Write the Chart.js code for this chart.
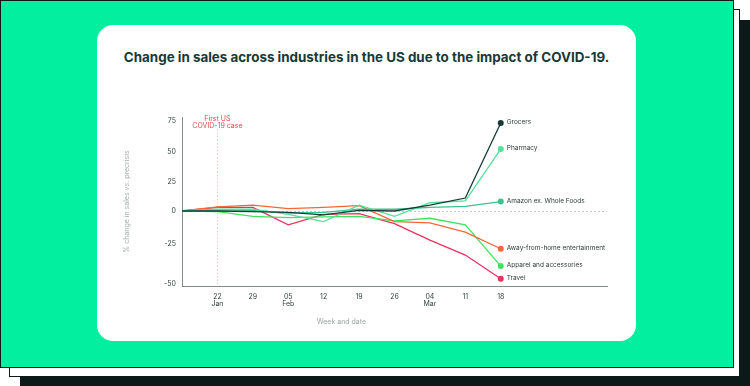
<!DOCTYPE html>
<html>
<head>
<meta charset="utf-8">
<script src="https://cdn.jsdelivr.net/npm/chart.js@4.4.1/dist/chart.umd.min.js"></script>
<style>
  html, body { margin: 0; padding: 0; background: #fff; }
  body { position: relative; width: 750px; height: 386px; overflow: hidden; font-family: Inter, sans-serif; }
  .layer { position: absolute; box-sizing: border-box; }
  .shadow { left: 20px; top: 20px; width: 730px; height: 366px; background: #0b1a18; }
  .back { left: 9px; top: 9px; width: 731px; height: 368px; background: #fff; border: 1px solid #0b1a18; }
  .front { left: 0; top: 0; width: 734px; height: 368px; background: #02ef9f; border: 1px solid #0b1a18; }
  .card { left: 97px; top: 25px; width: 539px; height: 316px; background: #fff; border-radius: 16px; }
  h1 { position: absolute; left: 97px; width: 539px; top: 48px; margin: 0; text-align: center;
       font-size: 13.4px; line-height: 18px; font-weight: 700; color: #173a37; }
  canvas { position: absolute; left: 0; top: 0; }
</style>
</head>
<body>
<div class="layer shadow"></div>
<div class="layer back"></div>
<div class="layer front"></div>
<div class="layer card"></div>
<h1>Change in sales across industries in the US due to the impact of COVID-19.</h1>
<canvas id="chart" width="750" height="386"></canvas>
<script>
const days = ['', '22', '29', '05', '12', '19', '26', '04', '11', '18']
const months = ['', 'Jan', '', 'Feb', '', '', '', 'Mar', '', '']

const names = ['Grocers', 'Pharmacy', 'Amazon ex. Whole Foods', 'Away-from-home entertainment', 'Apparel and accessories', 'Travel']
const grocers = [0, 0, -0.5, -1, -3, 0.5, 0, 5, 11, 73]
const pharmacy = [0, 1.5, 1.5, -2.5, -8, 5, -4, 7, 8.5, 52]
const amazon = [0, 1, 0.5, -1.5, -1, 1.5, 1.5, 3, 4, 8]
const awayFromHome = [0, 3.5, 5, 2, 3, 4.5, -8, -9, -16, -28]
const apparel = [0, -0.5, -4, -5, -4.5, -4, -7.5, -5.5, -10.5, -39]
const travel = [0, 3, 3, -10.5, -2.5, -2, -9.5, -22, -32, -47]

const yTicks = [75, 50, 25, 0, -25, -50]
const firstCase = { week: 1, text: ['First US', 'COVID-19 case'] }

const colors = ['#173a37', '#52e09a', '#38c48c', '#f5673a', '#3ee45c', '#e8335e']
const font = 'Inter, sans-serif'

// the source axis is not evenly spaced: every 25-point step has its own height
const yBands = [
  [-52, -50, 2.5],
  [-50, -25, 39.5],
  [-25, 0, 33],
  [0, 25, 29.5],
  [25, 50, 30],
  [50, 75, 31],
  [75, 78, 3.5],
]
const bandTotal = yBands.reduce((s, b) => s + b[2], 0)

function bandDecimal(v) {
  let acc = 0
  for (let i = 0; i < yBands.length; i++) {
    const [lo, hi, h] = yBands[i]
    if (v <= hi || i === yBands.length - 1) { return (acc + (v - lo) / (hi - lo) * h) / bandTotal }
    acc += h
  }
}

function bandValue(d) {
  let px = d * bandTotal
  for (let i = 0; i < yBands.length; i++) {
    const [lo, hi, h] = yBands[i]
    if (px <= h || i === yBands.length - 1) { return lo + px / h * (hi - lo) }
    px -= h
  }
}

class BandedScale extends Chart.LinearScale {
  getPixelForValue(value) {
    return value === null ? NaN : this.getPixelForDecimal(bandDecimal(value))
  }
  getValueForPixel(pixel) {
    return bandValue(this.getDecimalForPixel(pixel))
  }
}
BandedScale.id = 'banded'
BandedScale.defaults = Chart.LinearScale.defaults
Chart.register(BandedScale)

const series = [grocers, pharmacy, amazon, awayFromHome, apparel, travel]
const labels = days.map((d, i) => [d, months[i]]).concat(['', '', ''])

const marks = {
  id: 'marks',
  beforeDatasetsDraw(chart) {
    const { ctx, chartArea: a, scales: { x, y } } = chart
    ctx.save()
    ctx.lineWidth = 1
    ctx.setLineDash([2, 2])
    const y0 = Math.round(y.getPixelForValue(0)) + 0.5
    ctx.strokeStyle = '#c3cac8'
    ctx.beginPath(); ctx.moveTo(a.left, y0); ctx.lineTo(a.right, y0); ctx.stroke()
    const xc = Math.round(x.getPixelForValue(firstCase.week)) + 0.5
    ctx.strokeStyle = '#f9c4c7'
    ctx.setLineDash([1.5, 2])
    ctx.beginPath(); ctx.moveTo(xc, a.top + 12); ctx.lineTo(xc, a.bottom); ctx.stroke()
    ctx.restore()
  },
  afterDatasetsDraw(chart) {
    const { ctx, chartArea: a, scales: { x } } = chart
    ctx.save()
    ctx.font = '7px ' + font
    ctx.textBaseline = 'middle'

    ctx.fillStyle = '#e8474e'
    ctx.textAlign = 'center'
    const xc = x.getPixelForValue(firstCase.week)
    firstCase.text.forEach((t, i) => ctx.fillText(t, xc, a.top + 2 + i * 7))

    ctx.fillStyle = '#9ba5a3'
    ctx.fillText('Week and date', (x.getPixelForValue(0) + x.getPixelForValue(days.length - 1)) / 2, 322)

    ctx.font = '6.5px ' + font
    ctx.fillStyle = '#2f3d3b'
    ctx.textAlign = 'left'
    chart.data.datasets.forEach((ds, i) => {
      const pts = chart.getDatasetMeta(i).data
      const p = pts[pts.length - 1]
      ctx.fillText(ds.label, p.x + 6, p.y - 1)
    })
    ctx.restore()
  },
}

new Chart(document.getElementById('chart'), {
  type: 'line',
  data: {
    labels,
    datasets: series.map((data, i) => ({
      label: names[i],
      data,
      borderColor: colors[i],
      backgroundColor: colors[i],
      borderWidth: 1.3,
      tension: 0,
      pointRadius: (c) => (c.dataIndex === data.length - 1 ? 3 : 0),
      pointBorderWidth: 0,
    })),
  },
  options: {
    responsive: false,
    animation: false,
    events: [],
    layout: { padding: { left: 115, right: 143, top: 117, bottom: 60 } },
    plugins: { legend: { display: false }, tooltip: { enabled: false } },
    scales: {
      x: {
        grid: { display: false, drawTicks: false },
        border: { color: '#7f8e8b' },
        ticks: { padding: 7, color: '#33413f', font: { size: 7, family: font, lineHeight: 1 }, maxRotation: 0, autoSkip: false },
        afterFit: (s) => { s.height = 40 },
      },
      y: {
        type: 'banded',
        min: -52,
        max: 78,
        afterBuildTicks: (s) => { s.ticks = yTicks.map((v) => ({ value: v })) },
        afterFit: (s) => { s.width = 67 },
        grid: { display: false, drawTicks: false },
        border: { color: '#7f8e8b' },
        ticks: { padding: 6, color: '#33413f', font: { size: 7, family: font }, callback: (v) => String(v) },
        title: {
          display: true,
          text: '% change in sales vs. precrisis',
          color: '#a7b1af',
          font: { size: 7, family: font },
          padding: { top: 8, bottom: 0 },
        },
      },
    },
  },
  plugins: [marks],
})
</script>
</body>
</html>
